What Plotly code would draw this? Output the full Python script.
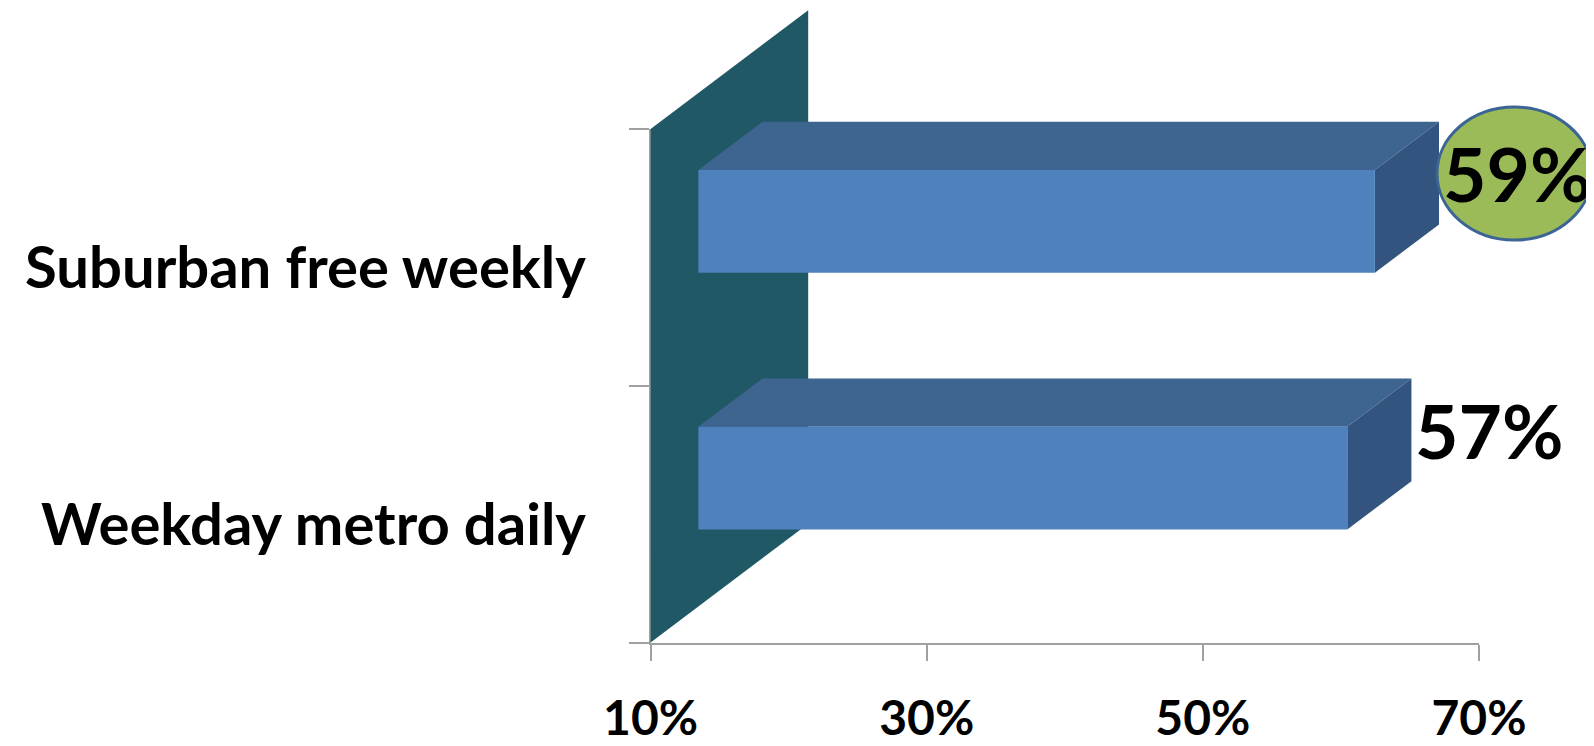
import plotly.graph_objects as go

# ---- data ----
categories = ["Weekday metro daily", "Suburban free weekly"]
values = [57, 59]
tick_vals = [10, 30, 50, 70]
tick_text = ["10%", "30%", "50%", "70%"]
value_text = ["57%", "59%"]

# ---- layout constants (screen pixels) ----
SCREEN_W, SCREEN_H = 1594, 746
OFF = 8  # default page body margin
W, H = SCREEN_W - OFF, SCREEN_H - OFF
PL, PR = 650.6 - OFF, 1479.0 - OFF
PT, PB = 129.0 - OFF, 642.5 - OFF
LABEL_RIGHT_PX = 587.6 - OFF
XMIN, XMAX = 10, 70
YMIN, YMAX = -0.5, 1.5
pxx = (PR - PL) / (XMAX - XMIN)
pxy = (PB - PT) / (YMAX - YMIN)
x2range = [XMIN - PL / pxx, XMAX + (W - PR) / pxx]
y2range = [YMIN - (H - PB) / pxy, YMAX + PT / pxy]

# oblique projection of depth
DEPTH_PX = (157.6, 118.8)
DX = DEPTH_PX[0] / pxx
DY = DEPTH_PX[1] / pxy
BAR_HALF = 0.2
F0, F1 = 0.303, 0.71

FONT = "Lato"
WALL = "#205865"
FRONT = "#4F81BD"
TOP = "#3D6590"
SIDE = "#32547E"
AXIS = "#A0A0A0"


def proj(x, y, d):
    return x + d * DX, y + d * DY


def poly(pts, color):
    xs, ys = [], []
    for p in pts:
        px, py = proj(*p)
        xs.append(px)
        ys.append(py)
    xs.append(xs[0])
    ys.append(ys[0])
    return go.Scatter(x=xs, y=ys, mode="lines", fill="toself", fillcolor=color,
                      line=dict(width=0, color=color), hoverinfo="skip",
                      showlegend=False, xaxis="x2", yaxis="y2")


fig = go.Figure()
# back wall
fig.add_trace(poly([(XMIN, YMIN, 0), (XMIN, YMAX, 0), (XMIN, YMAX, 1), (XMIN, YMIN, 1)], WALL))

for i, v in enumerate(values):
    lo, hi = i - BAR_HALF, i + BAR_HALF
    fig.add_trace(poly([(XMIN, hi, F0), (v, hi, F0), (v, hi, F1), (XMIN, hi, F1)], TOP))
    fig.add_trace(poly([(v, lo, F0), (v, hi, F0), (v, hi, F1), (v, lo, F1)], SIDE))
    fig.add_trace(poly([(XMIN, lo, F0), (v, lo, F0), (v, hi, F0), (XMIN, hi, F0)], FRONT))

# invisible trace on main axes so they render
fig.add_trace(go.Scatter(x=[XMIN], y=[YMIN], mode="markers", marker=dict(opacity=0),
                         hoverinfo="skip", showlegend=False))

LABEL_RIGHT = XMIN - (PL - LABEL_RIGHT_PX) / pxx
annotations = []
for i, c in enumerate(categories):
    annotations.append(dict(text=c, xref="x2", x=LABEL_RIGHT, xanchor="right",
                            yref="y2", y=i, yanchor="middle", yshift=-8, showarrow=False,
                            font=dict(family=FONT, size=58, color="black", weight="bold")))

shapes = []
imax = max(range(len(values)), key=lambda k: values[k])
for i, v in enumerate(values):
    ax, ay = proj(v, i, F1)
    annotations.append(dict(text=value_text[i], xref="x2", yref="y2", x=ax, y=ay,
                            xanchor="left", yanchor="middle", xshift=2, showarrow=False,
                            font=dict(family=FONT, size=75, color="black", weight="bold")))
    if i == imax:
        shapes.append(dict(type="circle", xref="x2", yref="y2", xsizemode="pixel",
                           ysizemode="pixel", xanchor=ax, yanchor=ay,
                           x0=-2, x1=153, y0=-67, y1=66,
                           fillcolor="#9BBB59", line=dict(color="#3C6494", width=3),
                           layer="above"))

fig.update_layout(
    width=W, height=H, margin=dict(l=0, r=0, t=0, b=0, pad=0, autoexpand=False),
    paper_bgcolor="white", plot_bgcolor="rgba(0,0,0,0)",
    xaxis=dict(domain=[PL / W, PR / W], range=[XMIN, XMAX], anchor="y", automargin=False,
               tickvals=tick_vals, ticktext=tick_text, ticks="outside", ticklen=16,
               tickwidth=2, tickcolor=AXIS, showline=True, linecolor=AXIS, linewidth=2,
               showgrid=False, zeroline=False, ticklabelstandoff=17,
               tickfont=dict(family=FONT, size=48, color="black", weight="bold")),
    yaxis=dict(domain=[(H - PB) / H, (H - PT) / H], range=[YMIN, YMAX], anchor="x",
               automargin=False,
               tickvals=[-0.5, 0.5, 1.5], ticks="outside", ticklen=20, tickwidth=2,
               tickcolor=AXIS, showline=True, linecolor=AXIS, linewidth=2,
               showticklabels=False, showgrid=False, zeroline=False),
    xaxis2=dict(domain=[0, 1], range=x2range, anchor="y2", visible=False, automargin=False),
    yaxis2=dict(domain=[0, 1], range=y2range, anchor="x2", visible=False, automargin=False),
    annotations=annotations, shapes=shapes,
)

fig.write_html("out.html")
